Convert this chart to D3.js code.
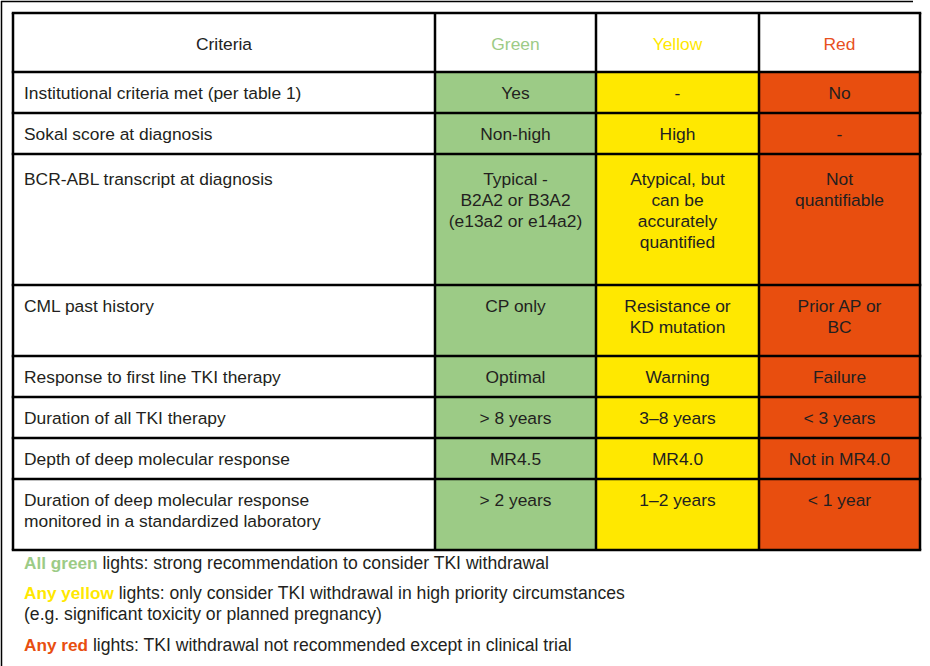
<!DOCTYPE html>
<html>
<head>
<meta charset="utf-8">
<script src="https://cdn.jsdelivr.net/npm/d3@7"></script>
<style>
  html, body { margin: 0; padding: 0; background: #fff; }
  svg { display: block; }
</style>
</head>
<body>
<svg id="chart" width="930" height="666"></svg>
<script>
// ---- data ----
const headers = ["Criteria", "Green", "Yellow", "Red"];
const criteria = [
  ["Institutional criteria met (per table 1)"],
  ["Sokal score at diagnosis"],
  ["BCR-ABL transcript at diagnosis"],
  ["CML past history"],
  ["Response to first line TKI therapy"],
  ["Duration of all TKI therapy"],
  ["Depth of deep molecular response"],
  ["Duration of deep molecular response", "monitored in a standardized laboratory"]
];
const greenVals = [
  ["Yes"], ["Non-high"], ["Typical -", "B2A2 or B3A2", "(e13a2 or e14a2)"], ["CP only"],
  ["Optimal"], ["> 8 years"], ["MR4.5"], ["> 2 years"]
];
const yellowVals = [
  ["-"], ["High"], ["Atypical, but", "can be", "accurately", "quantified"], ["Resistance or", "KD mutation"],
  ["Warning"], ["3\u20138 years"], ["MR4.0"], ["1\u20132 years"]
];
const redVals = [
  ["No"], ["-"], ["Not", "quantifiable"], ["Prior AP or", "BC"],
  ["Failure"], ["< 3 years"], ["Not in MR4.0"], ["< 1 year"]
];
const rowLines = [1, 1, 4, 2, 1, 1, 1, 2];
const footnotes = [
  [{t: "All green", c: "green"}, {t: " lights: strong recommendation to consider TKI withdrawal"}],
  [{t: "Any yellow", c: "yellow"}, {t: " lights: only consider TKI withdrawal in high priority circumstances"}],
  [{t: "(e.g. significant toxicity or planned pregnancy)"}],
  [{t: "Any red", c: "red"}, {t: " lights: TKI withdrawal not recommended except in clinical trial"}]
];

// ---- style ----
const colors = { green: "#9CCB86", yellow: "#FFE800", red: "#E84E0F" };
const headColors = [ "#222", "#9CCB86", "#FFE800", "#E8501E" ];
const textColor = "#231F20";
const font = "'Liberation Sans', Arial, Helvetica, sans-serif";
const fs = 17.4, footFs = 17.6, boldFs = 17.2;

const svg = d3.select("#chart");

// outer frame (top and left edges)
svg.append("line").attr("x1", 1).attr("x2", 913).attr("y1", 1.5).attr("y2", 1.5)
  .attr("stroke", "#000").attr("stroke-width", 1.5);
svg.append("line").attr("x1", 1.5).attr("x2", 1.5).attr("y1", 1).attr("y2", 666)
  .attr("stroke", "#000").attr("stroke-width", 1.5);

// column scale
const colEdges = [13, 435, 596, 759, 920];
const x = d3.scaleOrdinal().domain([0, 1, 2, 3]).range(colEdges.slice(0, 4));
const colW = i => colEdges[i + 1] - colEdges[i];

// row scale: height = 11 + 30 * lines
const headerTop = 13, headerH = 59;
const rowTops = [];
let acc = 0;
rowLines.forEach(n => { rowTops.push(acc); acc += 11 + 30 * n; });
const y = d3.scaleLinear().domain([0, acc]).range([headerTop + headerH, headerTop + headerH + acc]);
const tableBottom = y(acc);

const rows = criteria.map((c, i) => ({
  i, lines: rowLines[i], top: y(rowTops[i]), h: 11 + 30 * rowLines[i],
  cells: [c, greenVals[i], yellowVals[i], redVals[i]]
}));

const cellFill = ["#fff", colors.green, colors.yellow, colors.red];

// header cells
headers.forEach((h, j) => {
  svg.append("rect").attr("x", x(j)).attr("y", headerTop).attr("width", colW(j)).attr("height", headerH)
    .attr("fill", "#fff");
  svg.append("text").attr("x", x(j) + colW(j) / 2).attr("y", headerTop + headerH / 2 + 7)
    .attr("text-anchor", "middle").attr("font-family", font).attr("font-size", fs)
    .attr("fill", headColors[j]).text(h);
});

// body cells
const g = svg.selectAll("g.row").data(rows).join("g").attr("class", "row");
g.each(function(r) {
  const sel = d3.select(this);
  const off = r.lines >= 4 ? 31 : 27;
  r.cells.forEach((lines, j) => {
    sel.append("rect").attr("x", x(j)).attr("y", r.top).attr("width", colW(j)).attr("height", r.h)
      .attr("fill", cellFill[j]);
    const t = sel.append("text")
      .attr("font-family", font).attr("font-size", fs).attr("fill", textColor)
      .attr("text-anchor", j === 0 ? "start" : "middle");
    const tx = j === 0 ? x(j) + 11 : x(j) + colW(j) / 2;
    lines.forEach((ln, k) => {
      t.append("tspan").attr("x", tx).attr("y", r.top + off + 21 * k).text(ln);
    });
  });
});

// grid lines
const lw = 2.5;
const hLines = [headerTop, headerTop + headerH].concat(rows.map(r => r.top + r.h));
hLines.forEach(yy => {
  svg.append("line").attr("x1", colEdges[0] - lw / 2).attr("x2", colEdges[4] + lw / 2)
    .attr("y1", yy).attr("y2", yy).attr("stroke", "#000").attr("stroke-width", lw);
});
colEdges.forEach(xx => {
  svg.append("line").attr("x1", xx).attr("x2", xx).attr("y1", headerTop).attr("y2", tableBottom)
    .attr("stroke", "#000").attr("stroke-width", lw);
});

// footnotes
const footY = [569, 599, 620, 651];
footnotes.forEach((parts, i) => {
  const t = svg.append("text").attr("x", 24).attr("y", footY[i])
    .attr("font-family", font).attr("font-size", footFs).attr("fill", textColor);
  parts.forEach(p => {
    const ts = t.append("tspan").attr("fill", p.c ? colors[p.c] : textColor).text(p.t);
    if (p.c) ts.attr("font-weight", "bold").attr("font-size", boldFs);
  });
});
</script>
</body>
</html>
